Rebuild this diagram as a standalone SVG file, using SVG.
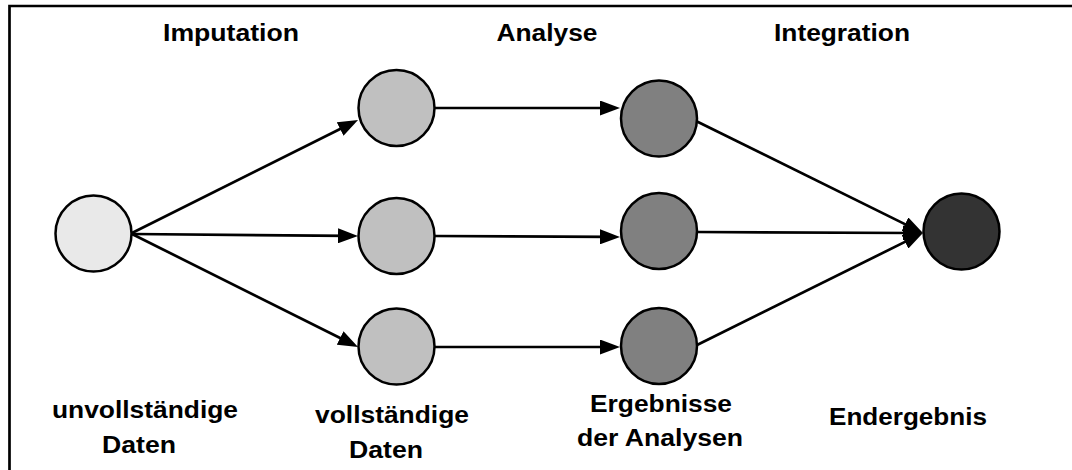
<svg xmlns="http://www.w3.org/2000/svg" width="1072" height="470" viewBox="0 0 1072 470">
  <defs>
    <marker id="arrow" markerUnits="userSpaceOnUse" markerWidth="20" markerHeight="15" refX="10" refY="7.5" orient="auto" viewBox="0 0 20 15">
      <path d="M0,0 L20,7.5 L0,15 z" fill="#000"/>
    </marker>
  </defs>
  <style>
    .frame { fill: none; stroke: #000; stroke-width: 2.7; }
    .node { stroke: #000; stroke-width: 2.5; }
    .n0 { fill: #e9e9e9; }
    .n1 { fill: #c0c0c0; }
    .n2 { fill: #808080; }
    .n3 { fill: #333333; }
    .edge { stroke: #000; stroke-width: 2.7; fill: none; marker-end: url(#arrow); }
    .label { font-family: "Liberation Sans", Arial, sans-serif; font-weight: bold; font-size: 23px; fill: #000; text-anchor: middle; }
  </style>

  <rect width="1072" height="470" fill="#fff"/>
  <!-- outer frame (right and bottom edges run off the canvas) -->
  <path class="frame" d="M9.5,480 V6 H1080"/>

  <!-- stage headings -->
  <g id="headings">
    <text class="label" x="231" y="41" textLength="136" lengthAdjust="spacingAndGlyphs">Imputation</text>
    <text class="label" x="547" y="41" textLength="101" lengthAdjust="spacingAndGlyphs">Analyse</text>
    <text class="label" x="842" y="41" textLength="136" lengthAdjust="spacingAndGlyphs">Integration</text>
  </g>

  <!-- connectors (each stops 10px short of the tip; the marker covers the rest) -->
  <g id="connectors">
    <line class="edge" x1="132" y1="233" x2="349.1" y2="124.5"/>
    <line class="edge" x1="132" y1="234" x2="348" y2="235.9"/>
    <line class="edge" x1="132" y1="234" x2="349.1" y2="342.5"/>
    <line class="edge" x1="435" y1="108" x2="610" y2="108"/>
    <line class="edge" x1="435" y1="236" x2="610" y2="236.9"/>
    <line class="edge" x1="435" y1="347" x2="610" y2="347"/>
    <line class="edge" x1="696" y1="121" x2="914" y2="228.6"/>
    <line class="edge" x1="697" y1="232" x2="913" y2="233"/>
    <line class="edge" x1="697" y1="345" x2="914" y2="237.4"/>
  </g>

  <!-- incomplete data -->
  <g id="incomplete">
    <circle class="node n0" cx="93.5" cy="233.5" r="38"/>
    <text class="label" x="145" y="418" textLength="186" lengthAdjust="spacingAndGlyphs">unvollständige</text>
    <text class="label" x="139" y="453" textLength="74" lengthAdjust="spacingAndGlyphs">Daten</text>
  </g>

  <!-- completed data sets -->
  <g id="complete1"><circle class="node n1" cx="396.5" cy="108" r="38"/></g>
  <g id="complete2"><circle class="node n1" cx="396.5" cy="236" r="38"/></g>
  <g id="complete3">
    <circle class="node n1" cx="396.5" cy="346.5" r="38"/>
    <text class="label" x="392" y="423" textLength="154" lengthAdjust="spacingAndGlyphs">vollständige</text>
    <text class="label" x="386" y="458" textLength="74" lengthAdjust="spacingAndGlyphs">Daten</text>
  </g>

  <!-- analysis results -->
  <g id="result1"><circle class="node n2" cx="659" cy="118.5" r="38"/></g>
  <g id="result2"><circle class="node n2" cx="659" cy="231" r="38"/></g>
  <g id="result3">
    <circle class="node n2" cx="659" cy="346" r="38"/>
    <text class="label" x="661" y="412" textLength="142" lengthAdjust="spacingAndGlyphs">Ergebnisse</text>
    <text class="label" x="660" y="446" textLength="166" lengthAdjust="spacingAndGlyphs">der Analysen</text>
  </g>

  <!-- final result -->
  <g id="final">
    <circle class="node n3" cx="961.5" cy="231.5" r="38"/>
    <text class="label" x="908" y="425" textLength="158" lengthAdjust="spacingAndGlyphs">Endergebnis</text>
  </g>
</svg>
